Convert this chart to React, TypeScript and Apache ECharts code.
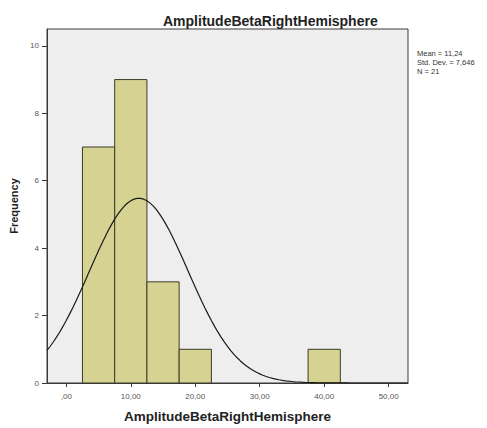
import React, { useEffect, useRef } from "react";
import * as echarts from "echarts";

const chartTitle = "AmplitudeBetaRightHemisphere";
const xName = "AmplitudeBetaRightHemisphere";
const yName = "Frequency";
const binStarts = [2.5, 7.5, 12.5, 17.5, 22.5, 27.5, 32.5, 37.5];
const binCounts = [7, 9, 3, 1, 0, 0, 0, 1];
const binWidth = 5;
const xTicks = [0, 10, 20, 30, 40, 50];
const yTicks = [0, 2, 4, 6, 8, 10];
const meanValue = 11.24;
const sdValue = 7.646;
const nValue = 21;
const statLines = ["Mean = 11,24", "Std. Dev. = 7,646", "N = 21"];

export default function App() {
  const ref = useRef<HTMLDivElement>(null);
  useEffect(() => {
    if (!ref.current) return;
    const chart = echarts.init(ref.current, null, { renderer: "svg" });
    const barData = binStarts
      .map((s, i) => [s, binCounts[i]])
      .filter((d) => d[1] > 0);
    const curve: number[][] = [];
    for (let x = -3; x <= 53.001; x += 0.5) {
      const z = (x - meanValue) / sdValue;
      const y = (nValue * binWidth) / (sdValue * Math.sqrt(2 * Math.PI)) * Math.exp(-0.5 * z * z);
      curve.push([x, y]);
    }
    const font = "Liberation Sans, Arial, sans-serif";
    chart.setOption({
      animation: false,
      backgroundColor: "#ffffff",
      title: {
        text: chartTitle,
        left: 158,
        top: 9,
        textStyle: { fontFamily: font, fontSize: 14, fontWeight: "bold", color: "#222" },
      },
      grid: {
        left: 47,
        right: 79,
        top: 29,
        bottom: 41,
        show: true,
        backgroundColor: "#eeeeee",
        borderColor: "#3a3a3a",
        borderWidth: 1,
      },
      xAxis: {
        type: "value",
        min: -3,
        max: 53,
        name: xName,
        nameLocation: "middle",
        nameGap: 26,
        nameTextStyle: { fontFamily: font, fontSize: 13.5, fontWeight: "bold", color: "#222" },
        axisLine: { show: true, onZero: false, lineStyle: { color: "#3a3a3a" } },
        axisTick: { show: true, length: 4, customValues: xTicks, lineStyle: { color: "#3a3a3a" } },
        axisLabel: {
          customValues: xTicks,
          margin: 9,
          fontFamily: font,
          fontSize: 8,
          color: "#555",
          formatter: (v: number) => (v === 0 ? ",00" : v.toFixed(2).replace(".", ",")),
        },
        splitLine: { show: false },
      },
      yAxis: {
        type: "value",
        min: 0,
        max: 10.5,
        name: yName,
        nameLocation: "middle",
        nameGap: 23,
        nameTextStyle: { fontFamily: font, fontSize: 11, fontWeight: "bold", color: "#222" },
        axisLine: { show: true, onZero: false, lineStyle: { color: "#3a3a3a" } },
        axisTick: { show: true, length: 5, customValues: yTicks, lineStyle: { color: "#3a3a3a" } },
        axisLabel: {
          customValues: yTicks,
          margin: 8,
          fontFamily: font,
          fontSize: 8,
          color: "#555",
        },
        splitLine: { show: false },
      },
      graphic: statLines.map((t, i) => ({
        type: "text",
        left: 417,
        top: 49 + i * 9,
        style: { text: t, fontFamily: font, fontSize: 7.5, fill: "#333" },
      })),
      series: [
        {
          type: "custom",
          data: barData,
          renderItem: (params: any, api: any) => {
            const x0 = api.value(0);
            const c = api.value(1);
            const p1 = api.coord([x0, c]);
            const p2 = api.coord([x0 + binWidth, 0]);
            return {
              type: "rect",
              shape: { x: p1[0], y: p1[1], width: p2[0] - p1[0], height: p2[1] - p1[1] },
              style: { fill: "#d6d392", stroke: "#3b3b28", lineWidth: 1 },
            };
          },
          z: 2,
        },
        {
          type: "line",
          data: curve,
          showSymbol: false,
          smooth: false,
          lineStyle: { color: "#1a1a1a", width: 1.2 },
          z: 3,
        },
      ],
    });
    return () => chart.dispose();
  }, []);
  return <div ref={ref} style={{ width: 487, height: 428, position: "absolute", left: 0, top: 0 }} />;
}
